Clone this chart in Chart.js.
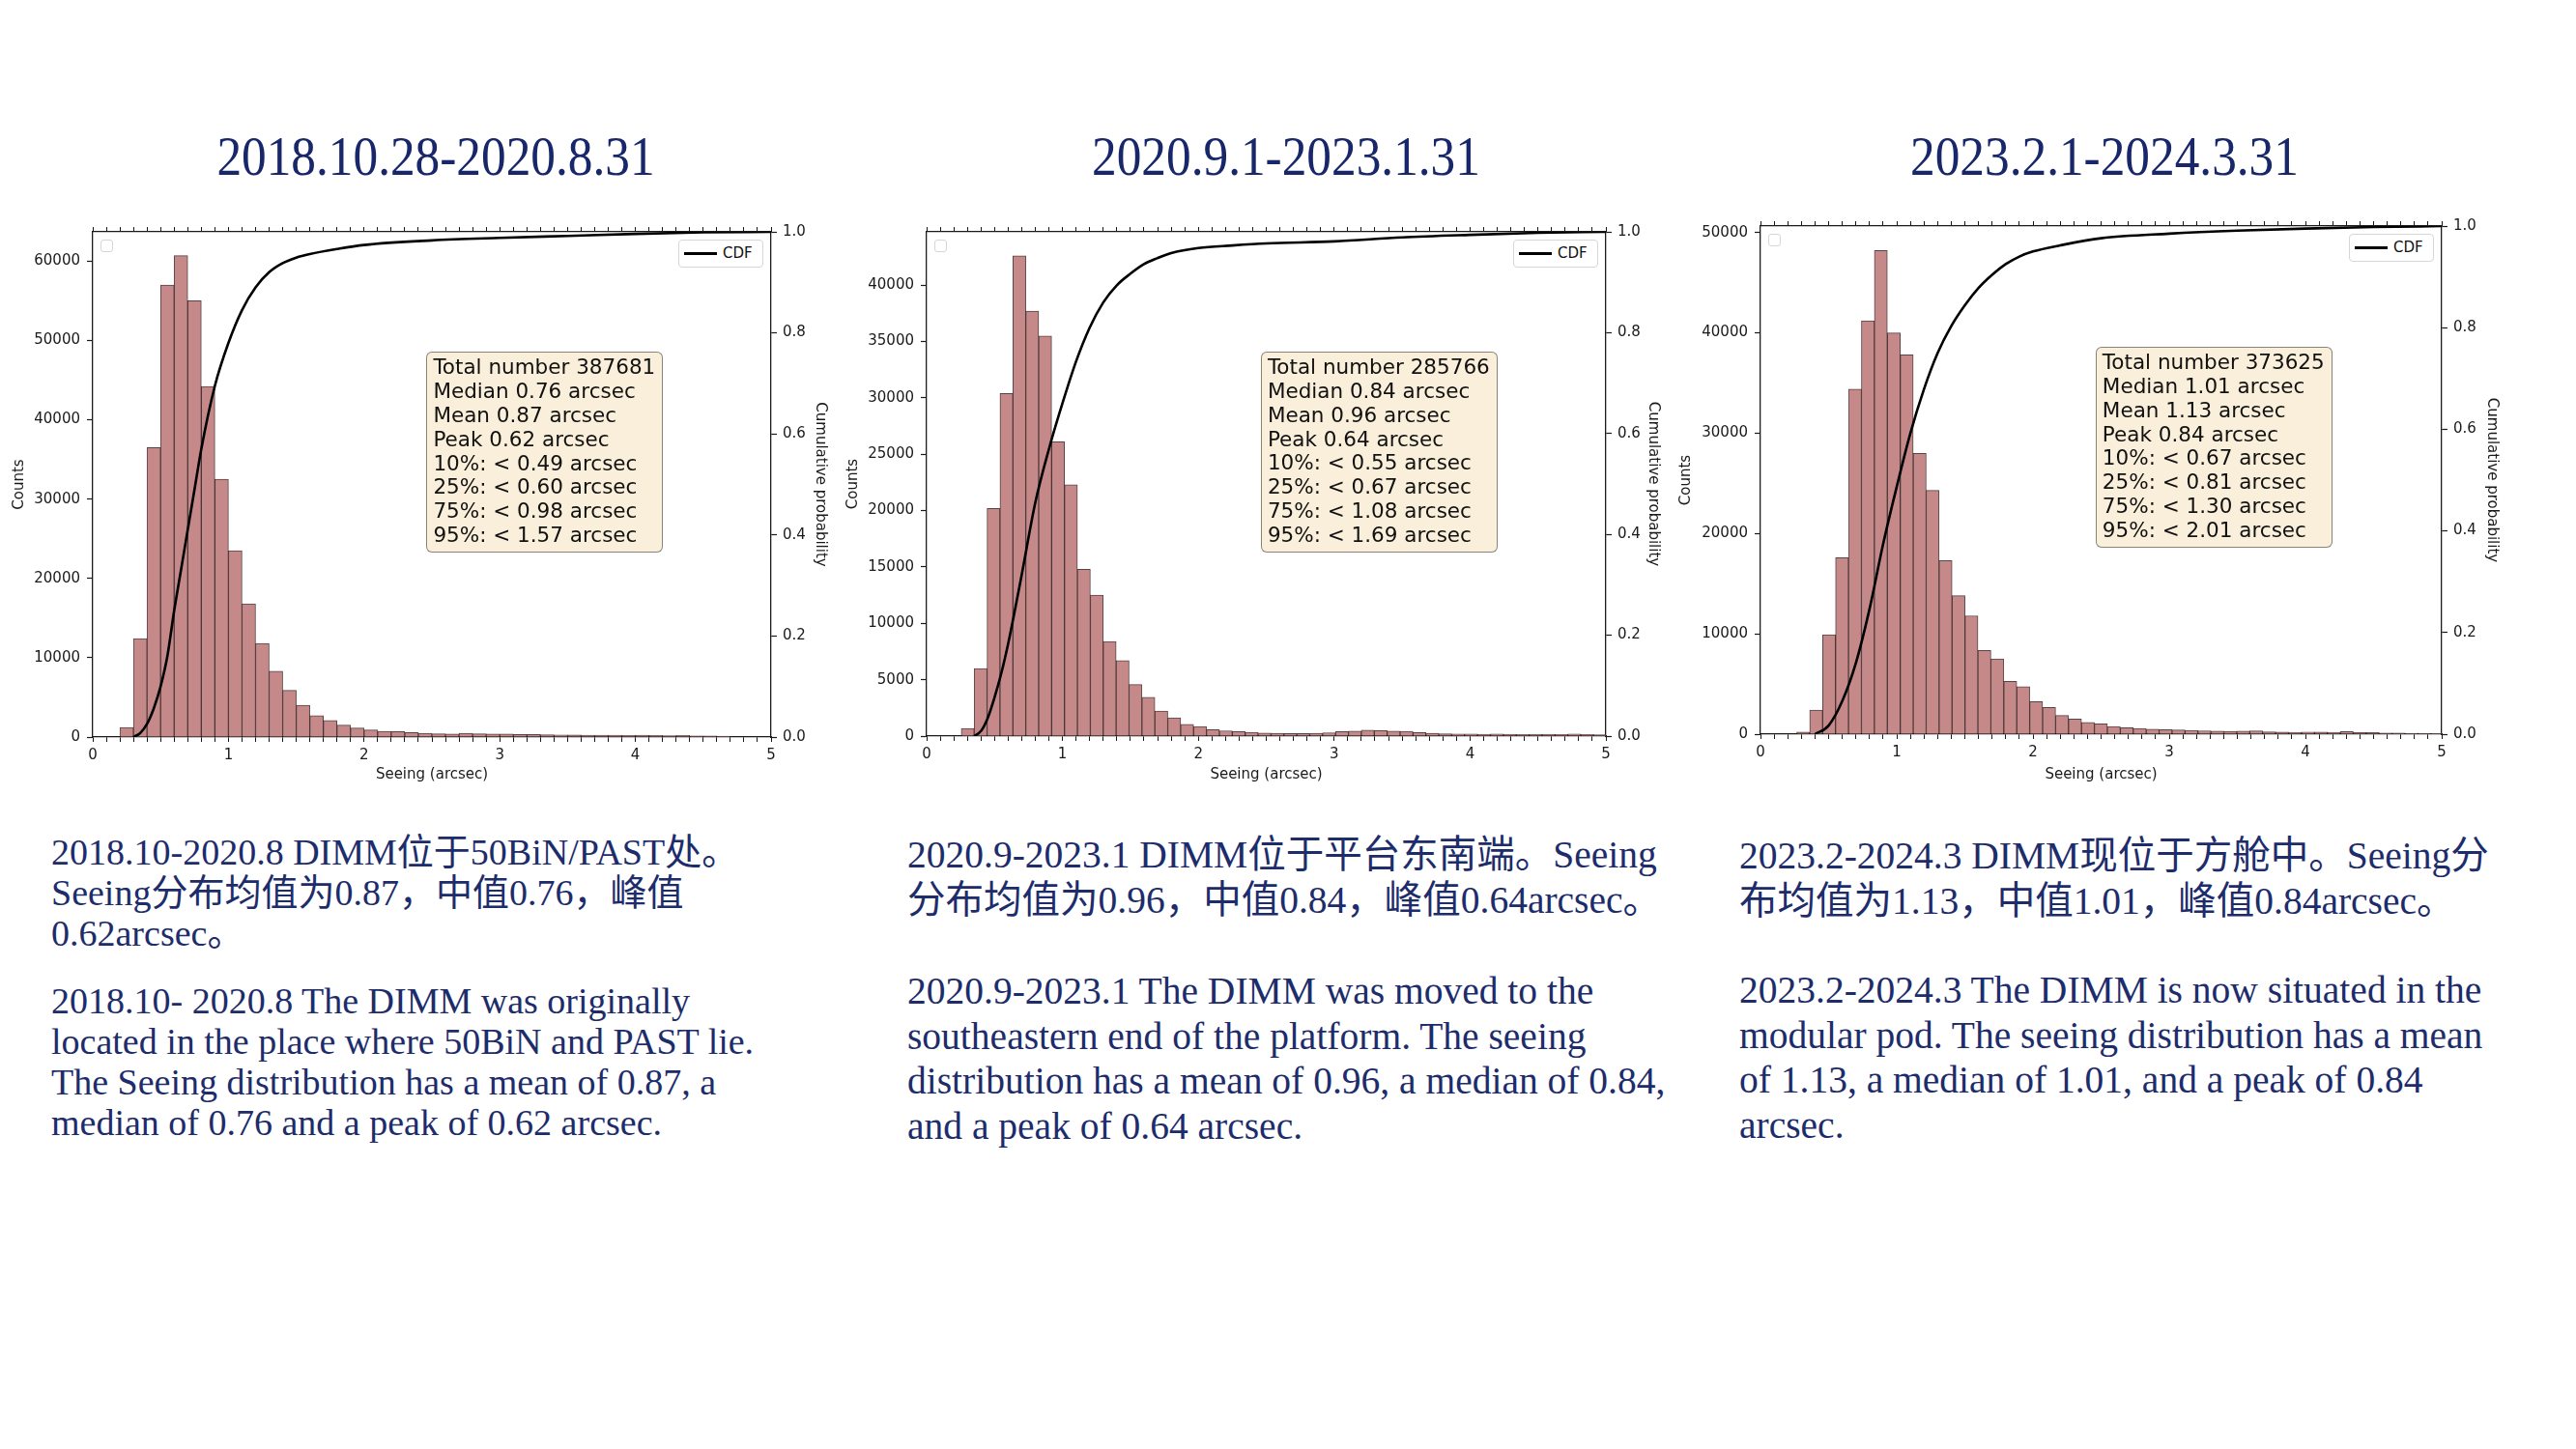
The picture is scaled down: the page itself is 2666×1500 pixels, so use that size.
<!DOCTYPE html>
<html>
<head>
<meta charset="utf-8">
<script src="https://cdn.jsdelivr.net/npm/chart.js"></script>
<style>
  body { margin: 0; width: 2666px; height: 1500px; background: #fff; position: relative; overflow: hidden; font-family: "DejaVu Sans", sans-serif; }
  .wrap { position: absolute; }
  .title { position: absolute; width: 1000px; text-align: center; font-family: "Liberation Serif", "Noto Sans CJK SC", serif; font-size: 57px; line-height: 57px; color: #18276a; transform: scaleX(0.9); white-space: nowrap; }
  .txt { position: absolute; font-family: "Liberation Serif", "Noto Sans CJK SC", serif; color: #1d2c6b; white-space: nowrap; }
  .stats { position: absolute; background: #faefda; border: 1.5px solid rgba(0,0,0,0.45); border-radius: 6px; padding: 3px 7px 4px 6px; font-size: 21.5px; line-height: 24.8px; color: #111; white-space: nowrap; }
  .leg { position: absolute; width: 88px; height: 29px; box-sizing: border-box; background: #fff; border: 1px solid #d6d6d6; border-radius: 4px; font-size: 15px; color: #111; }
  .leg i { position: absolute; left: 5px; top: 12px; width: 34px; height: 2.6px; background: #000; }
  .leg span { position: absolute; left: 45px; top: 4px; line-height: 18px; }
  .empty { position: absolute; width: 13px; height: 13px; box-sizing: border-box; background: #fff; border: 1.5px solid #d6d6d6; border-radius: 3px; }
</style>
</head>
<body>

<div class="title" style="left:-49px; top:133px;">2018.10.28-2020.8.31</div>
<div class="title" style="left:831px; top:133px;">2020.9.1-2023.1.31</div>
<div class="title" style="left:1678px; top:133px;">2023.2.1-2024.3.31</div>

<div id="c1" class="wrap" style="left:0px; top:200px; width:900px; height:640px;"></div>
<div id="c2" class="wrap" style="left:860px; top:200px; width:920px; height:640px;"></div>
<div id="c3" class="wrap" style="left:1720px; top:200px; width:946px; height:640px;"></div>

<div class="txt" style="left:53px; top:861px; font-size:38px; line-height:42px;">2018.10-2020.8 DIMM位于50BiN/PAST处。<br>Seeing分布均值为0.87，中值0.76，峰值<br>0.62arcsec。</div>
<div class="txt" style="left:53px; top:1015px; font-size:38px; line-height:42px;">2018.10- 2020.8 The DIMM was originally<br>located in the place where 50BiN and PAST lie.<br>The Seeing distribution has a mean of 0.87, a<br>median of 0.76 and a peak of 0.62 arcsec.</div>

<div class="txt" style="left:939px; top:862px; font-size:39.5px; line-height:46.5px;">2020.9-2023.1 DIMM位于平台东南端。Seeing<br>分布均值为0.96，中值0.84，峰值0.64arcsec。</div>
<div class="txt" style="left:939px; top:1003px; font-size:39.5px; line-height:46.5px;">2020.9-2023.1 The DIMM was moved to the<br>southeastern end of the platform. The seeing<br>distribution has a mean of 0.96, a median of 0.84,<br>and a peak of 0.64 arcsec.</div>

<div class="txt" style="left:1800px; top:863px; font-size:39.5px; line-height:46.5px;">2023.2-2024.3 DIMM现位于方舱中。Seeing分<br>布均值为1.13，中值1.01，峰值0.84arcsec。</div>
<div class="txt" style="left:1800px; top:1002px; font-size:39.5px; line-height:46.5px;">2023.2-2024.3 The DIMM is now situated in the<br>modular pod. The seeing distribution has a mean<br>of 1.13, a median of 1.01, and a peak of 0.84<br>arcsec.</div>

<script>
// ---- panel 1: 2018.10.28-2020.8.31 ----
const binStart1 = 0.2, binWidth1 = 0.1;
const counts1 = [1200, 12400, 36500, 57000, 60700, 55000, 44200, 32500,
  23500, 16800, 11800, 8300, 5900, 4000, 2700, 2100, 1500, 1150,
  900, 720, 700, 560, 480, 420, 380, 480, 420, 380,
  380, 340, 320, 280, 260, 250, 240, 230, 220, 210,
  220, 200, 170, 200, 150, 130, 110];
const cdfX1 = [0.3, 0.35, 0.4, 0.45, 0.5, 0.55, 0.6, 0.65, 0.7, 0.75, 0.8, 0.9, 1.0, 1.1, 1.2, 1.3, 1.4, 1.5, 1.6, 1.8, 2.0, 2.5, 3.0, 3.5, 4.0, 4.5, 5.0];
const cdfY1 = [0, 0.008, 0.026, 0.057, 0.10, 0.16, 0.25, 0.33, 0.41, 0.49, 0.57, 0.695, 0.78, 0.845, 0.89, 0.92, 0.938, 0.949, 0.956, 0.966, 0.974, 0.983, 0.988, 0.992, 0.996, 0.999, 1.0];
const yTicks1 = [0, 10000, 20000, 30000, 40000, 50000, 60000];
const stats1 = ['Total number 387681', 'Median 0.76 arcsec', 'Mean 0.87 arcsec', 'Peak 0.62 arcsec',
  '10%: < 0.49 arcsec', '25%: < 0.60 arcsec', '75%: < 0.98 arcsec', '95%: < 1.57 arcsec'];

// ---- panel 2: 2020.9.1-2023.1.31 ----
const binStart2 = 0.255, binWidth2 = 0.095;
const counts2 = [680, 6000, 20200, 30400, 42600, 37700, 35500, 26100, 22300, 14800,
  12500, 8400, 6700, 4570, 3450, 2230, 1620, 1050, 850, 580,
  470, 400, 340, 270, 250, 230, 230, 260, 300, 400,
  440, 520, 480, 440, 420, 320, 260, 200, 190, 180,
  170, 180, 160, 150, 170, 160, 150, 190, 140, 120];
const cdfX2 = [0.35, 0.4, 0.45, 0.5, 0.55, 0.6, 0.65, 0.7, 0.8, 0.9, 1.0, 1.1, 1.2, 1.3, 1.4, 1.5, 1.6, 1.7, 1.8, 2.0, 2.25, 2.5, 3.0, 3.5, 4.0, 4.5, 5.0];
const cdfY2 = [0, 0.01, 0.036, 0.077, 0.125, 0.183, 0.25, 0.32, 0.463, 0.569, 0.66, 0.743, 0.81, 0.86, 0.894, 0.917, 0.936, 0.948, 0.958, 0.968, 0.973, 0.977, 0.981, 0.989, 0.994, 0.998, 1.0];
const yTicks2 = [0, 5000, 10000, 15000, 20000, 25000, 30000, 35000, 40000];
const stats2 = ['Total number 285766', 'Median 0.84 arcsec', 'Mean 0.96 arcsec', 'Peak 0.64 arcsec',
  '10%: < 0.55 arcsec', '25%: < 0.67 arcsec', '75%: < 1.08 arcsec', '95%: < 1.69 arcsec'];

// ---- panel 3: 2023.2.1-2024.3.31 ----
const binStart3 = 0.266, binWidth3 = 0.095;
const counts3 = [200, 2400, 9900, 17600, 34400, 41200, 48200, 40000, 37800, 28000,
  24300, 17300, 13800, 11800, 8350, 7500, 5260, 4730, 3240, 2670,
  1870, 1520, 1180, 1030, 760, 650, 570, 500, 460, 420,
  380, 340, 300, 270, 300, 330, 230, 200, 190, 220,
  200, 190, 260, 150, 150, 120, 120, 100, 80, 60];
const cdfX3 = [0.4, 0.5, 0.6, 0.7, 0.8, 0.9, 1.0, 1.1, 1.2, 1.3, 1.4, 1.5, 1.6, 1.7, 1.8, 1.9, 2.0, 2.2, 2.5, 3.0, 3.5, 4.0, 4.5, 5.0];
const cdfY3 = [0, 0.017, 0.065, 0.14, 0.246, 0.374, 0.487, 0.592, 0.679, 0.75, 0.803, 0.844, 0.878, 0.904, 0.925, 0.94, 0.95, 0.962, 0.976, 0.985, 0.991, 0.995, 0.998, 1.0];
const yTicks3 = [0, 10000, 20000, 30000, 40000, 50000];
const stats3 = ['Total number 373625', 'Median 1.01 arcsec', 'Mean 1.13 arcsec', 'Peak 0.84 arcsec',
  '10%: < 0.67 arcsec', '25%: < 0.81 arcsec', '75%: < 1.30 arcsec', '95%: < 2.01 arcsec'];

const xTicksMajor = [0, 1, 2, 3, 4, 5];
const probTicks = [0, 0.2, 0.4, 0.6, 0.8, 1.0];

const ink = '#1a1a1a';
const axFont = { family: 'DejaVu Sans', size: 15 };

function makePanel(o) {
  const wrap = document.getElementById(o.id);
  const canvas = document.createElement('canvas');
  wrap.appendChild(canvas);

  const bars = o.counts.map((c, i) => ({ x: o.binStart + (i + 0.5) * o.binWidth, y: c }));
  const cdf = o.cdfX.map((x, i) => ({ x: x, y: o.cdfY[i] }));

  // labels only on the whole numbers, minor ticks every 0.1 left blank
  const intLabel = v => xTicksMajor.some(t => Math.abs(t - v) < 1e-6) ? String(Math.round(v)) : '';

  const chart = new Chart(canvas, {
    type: 'bar',
    data: {
      datasets: [
        { type: 'line', data: cdf, xAxisID: 'x', yAxisID: 'y1', borderColor: '#000', borderWidth: 2.6,
          pointRadius: 0, cubicInterpolationMode: 'monotone', order: 0 },
        { type: 'bar', data: bars, xAxisID: 'x', yAxisID: 'y', backgroundColor: '#c5898a',
          borderColor: 'rgba(45,20,20,0.8)', borderWidth: 1, barPercentage: 1, categoryPercentage: 1, order: 1 }
      ]
    },
    options: {
      responsive: true, maintainAspectRatio: false, animation: false,
      layout: { padding: 0 },
      plugins: { legend: { display: false }, tooltip: { enabled: false } },
      scales: {
        x: {
          type: 'linear', position: 'bottom', min: 0, max: 5, offset: false,
          afterFit: s => { s.height = o.B; },
          ticks: { stepSize: 0.1, autoSkip: false, maxRotation: 0, padding: 5, color: ink, font: axFont, callback: intLabel },
          grid: { drawOnChartArea: false, offset: false, tickLength: 5, color: ink, tickWidth: 1 },
          border: { color: ink, width: 1.3 },
          title: { display: true, text: 'Seeing (arcsec)', color: ink, font: axFont, padding: { top: 0, bottom: 29 } }
        },
        xTop: {
          type: 'linear', position: 'top', min: 0, max: 5, offset: false,
          afterFit: s => { s.height = o.T; },
          ticks: { stepSize: 0.1, autoSkip: false, maxRotation: 0, display: false },
          grid: { drawOnChartArea: false, offset: false, tickLength: 5, color: ink, tickWidth: 1 },
          border: { color: ink, width: 1.3 }
        },
        y: {
          type: 'linear', position: 'left', min: 0, max: o.yMax,
          afterFit: s => { s.width = o.L; },
          afterBuildTicks: s => { s.ticks = o.yTicks.map(v => ({ value: v })); },
          ticks: { color: ink, font: axFont, padding: 7, callback: v => String(v) },
          grid: { drawOnChartArea: false, tickLength: 6, color: ink, tickWidth: 1.2 },
          border: { color: ink, width: 1.3 },
          title: { display: true, text: 'Counts', color: ink, font: axFont, padding: { top: o.padL, bottom: 0 } }
        },
        y1: {
          type: 'linear', position: 'right', min: 0, max: 1,
          afterFit: s => { s.width = o.R; },
          afterBuildTicks: s => { s.ticks = probTicks.map(v => ({ value: v })); },
          ticks: { color: ink, font: axFont, padding: 6, callback: v => v.toFixed(1) },
          grid: { drawOnChartArea: false, tickLength: 6, color: ink, tickWidth: 1.2 },
          border: { color: ink, width: 1.3 },
          title: { display: true, text: 'Cumulative probability', color: ink, font: axFont, padding: { top: o.padR, bottom: 0 } }
        }
      }
    }
  });

  const a = chart.chartArea;

  const empty = document.createElement('div');
  empty.className = 'empty';
  empty.style.left = (a.left + 8) + 'px';
  empty.style.top = (a.top + 8) + 'px';
  wrap.appendChild(empty);

  const leg = document.createElement('div');
  leg.className = 'leg';
  leg.innerHTML = '<i></i><span>CDF</span>';
  leg.style.left = (a.right - 8 - 88) + 'px';
  leg.style.top = (a.top + 8) + 'px';
  wrap.appendChild(leg);

  const box = document.createElement('div');
  box.className = 'stats';
  box.innerHTML = o.stats.join('<br>');
  box.style.left = (a.left + 0.492 * (a.right - a.left)) + 'px';
  box.style.top = (a.top + 0.238 * (a.bottom - a.top)) + 'px';
  wrap.appendChild(box);
}

makePanel({ id: 'c1', binStart: binStart1, binWidth: binWidth1, counts: counts1, cdfX: cdfX1, cdfY: cdfY1, stats: stats1,
  yTicks: yTicks1, yMax: 63700, L: 96, R: 102, T: 40, B: 77, padL: 11, padR: 42 });
makePanel({ id: 'c2', binStart: binStart2, binWidth: binWidth2, counts: counts2, cdfX: cdfX2, cdfY: cdfY2, stats: stats2,
  yTicks: yTicks2, yMax: 44730, L: 99, R: 118, T: 40, B: 78, padL: 14, padR: 60 });
makePanel({ id: 'c3', binStart: binStart3, binWidth: binWidth3, counts: counts3, cdfX: cdfX3, cdfY: cdfY3, stats: stats3,
  yTicks: yTicks3, yMax: 50650, L: 102, R: 139, T: 34, B: 80, padL: 16, padR: 78 });
</script>
</body>
</html>
